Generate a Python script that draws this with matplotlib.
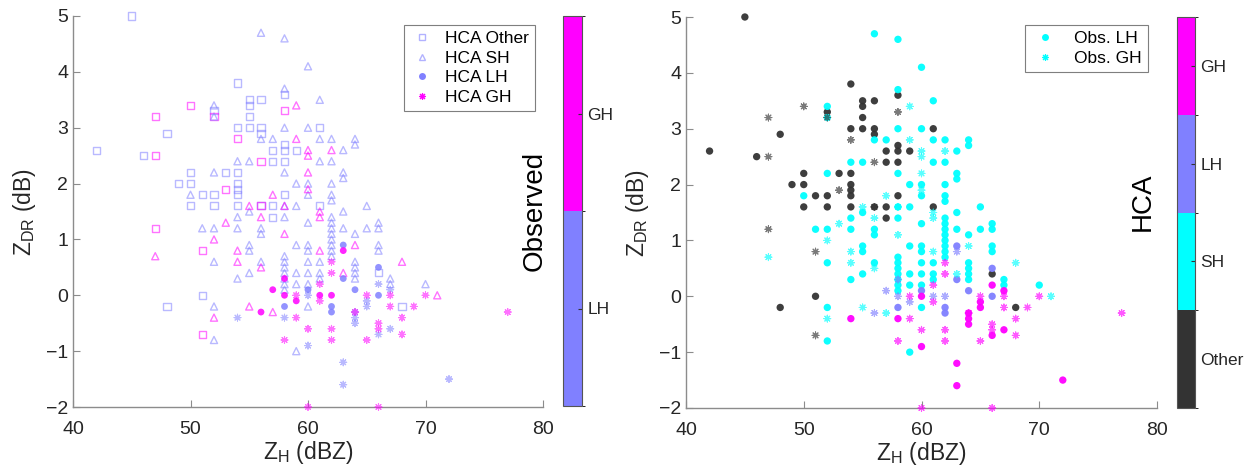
import numpy as np
import matplotlib
matplotlib.use("Agg")
import matplotlib.pyplot as plt
from matplotlib.colors import ListedColormap, BoundaryNorm
from matplotlib.cm import ScalarMappable
from matplotlib.lines import Line2D

plt.rcParams['font.family'] = ['Liberation Sans', 'DejaVu Sans']
plt.rcParams['mathtext.default'] = 'regular'

# ZH (dBZ) / ZDR (dB) points, grouped by HCA class and observed class
other_lh_zh = [45, 42, 46, 48, 49, 50, 50, 50, 51, 51, 48, 52, 52, 52, 53, 54, 54, 54, 54, 54, 54, 54,
               55, 55, 55, 55, 56, 56, 56, 56, 57, 57, 57, 57, 58, 58, 58, 58, 58, 59, 61, 61, 66, 68]
other_lh_zdr = [5.0, 2.6, 2.5, 2.9, 2.0, 2.2, 2.0, 1.6, 1.8, 0.0, -0.2, 3.3, 1.8, 1.6, 2.2, 3.8, 3.0, 2.2, 2.0, 1.9, 1.8, 1.6,
                3.5, 3.4, 3.2, 3.0, 3.5, 3.0, 2.9, 1.6, 2.6, 2.4, 1.6, 1.4, 3.6, 2.7, 2.6, 2.4, 1.8, 2.6, 3.0, 1.6, 0.4, -0.2]

other_gh_zh = [47, 47, 47, 50, 51, 51, 52, 53, 54, 56, 56, 58]
other_gh_zdr = [3.2, 2.5, 1.2, 3.4, 0.8, -0.7, 3.2, 1.9, 2.8, 2.4, 1.6, 3.3]

sh_lh_zh = [50, 51, 52, 52, 52, 52, 52, 52, 52, 54, 54, 54, 54, 55, 55, 55, 55, 55,
            56, 56, 56, 56, 56, 57,
            58, 58, 58, 58, 58, 58, 58, 58, 58, 58, 58, 58, 58,
            59, 59, 59, 59, 59, 59,
            60, 60, 60, 60, 60, 60, 60, 60, 60, 60, 60,
            61, 61, 61, 61, 61, 61,
            62, 62, 62, 62, 62, 62, 62, 62, 62, 62, 62, 62, 62,
            63, 63, 63, 63, 63, 64, 64, 64, 64, 64, 64, 64,
            65, 65, 66, 66, 66, 66, 67, 67, 70]
sh_lh_zdr = [1.8, 1.2, 3.4, 3.2, 2.2, 1.2, 0.6, -0.2, -0.8, 2.4, 1.4, 1.2, 0.3, 2.4, 1.5, 0.9, 0.8, 0.4,
             4.7, 2.8, 1.2, 1.1, 0.6, 2.8,
             4.6, 3.7, 3.0, 2.2, 1.6, 1.4, 0.7, 0.6, 0.5, 0.4, 0.3, 0.2, 0.1,
             2.0, 1.6, 0.9, 0.4, 0.2, -1.0,
             4.1, 3.0, 2.0, 1.8, 1.3, 0.9, 0.8, 0.6, 0.4, 0.2, -0.2,
             3.5, 2.8, 2.4, 0.6, 0.4, 0.3,
             2.8, 2.4, 2.0, 1.8, 1.7, 1.4, 1.3, 1.2, 1.1, 1.0, 0.9, 0.8, 0.7,
             2.6, 2.2, 2.1, 1.5, 1.2, 2.8, 2.7, 1.1, 0.6, 0.5, 0.4, 0.3,
             1.6, 1.2, 1.3, 1.2, 0.9, 0.8, 0.3, 0.2, 0.2]

sh_gh_zh = [47, 52, 52, 53, 54, 54, 55, 55, 56, 56, 57, 57, 58, 58, 59, 59,
            60, 60, 60, 60, 61, 61, 61, 62, 63, 64, 68, 71]
sh_gh_zdr = [0.7, 1.0, -0.4, 1.3, 0.8, 0.6, 1.6, -0.2, 1.4, 0.5, 1.8, -0.3, 1.1, 1.6, 3.4, 2.8,
             2.6, 2.5, 2.2, 1.9, 1.5, 1.4, 0.8, 2.6, 0.4, 0.9, 0.6, 0.0]

lh_lh_zh = [58, 60, 62, 62, 63, 63, 64, 66, 66]
lh_lh_zdr = [-0.2, 0.1, -0.2, -0.3, 0.9, 0.3, 0.1, 0.5, 0.0]

lh_gh_zh = [56, 57, 58, 58, 59, 61, 62, 63]
lh_gh_zdr = [-0.3, 0.1, 0.0, 0.3, -0.1, 0.0, 0.0, 0.8]

gh_lh_zh = [54, 58, 60, 60, 63, 63, 64, 64, 64, 65, 65, 66, 66, 67, 67, 72]
gh_lh_zdr = [-0.4, -0.4, 0.0, -0.9, -1.2, -1.6, -0.3, -0.4, -0.5, -0.1, -0.2, 0.2, -0.7, 0.1, -0.6, -1.5]

gh_gh_zh = [58, 59, 59, 60, 60, 61, 61, 62, 62, 62, 62, 64, 65, 65, 66, 66, 66, 67, 67, 68, 68, 69, 70, 77]
gh_gh_zdr = [-0.8, 0.0, -0.4, -0.6, -2.0, 0.2, -0.1, 0.6, 0.4, -0.6, -0.8, -0.3, 0.0, -0.8, -0.5, -0.6, -2.0,
             0.0, -0.2, -0.4, -0.7, -0.2, 0.0, -0.3]

hca_names = ['Other', 'SH', 'LH', 'GH']
obs_names = ['LH', 'GH']
hca_colors = ['#333333', '#00ffff', '#8080ff', '#ff00ff']
obs_colors = ['#8080ff', '#ff00ff']

groups = {
    ('Other', 'LH'): (other_lh_zh, other_lh_zdr),
    ('Other', 'GH'): (other_gh_zh, other_gh_zdr),
    ('SH', 'LH'): (sh_lh_zh, sh_lh_zdr),
    ('SH', 'GH'): (sh_gh_zh, sh_gh_zdr),
    ('LH', 'LH'): (lh_lh_zh, lh_lh_zdr),
    ('LH', 'GH'): (lh_gh_zh, lh_gh_zdr),
    ('GH', 'LH'): (gh_lh_zh, gh_lh_zdr),
    ('GH', 'GH'): (gh_gh_zh, gh_gh_zdr),
}

star = (8, 2, 0)
W, H = 1254, 472
fig = plt.figure(figsize=(W / 100, H / 100), dpi=100)

ax1 = fig.add_axes([73 / W, 1 - 407 / H, 470 / W, 391 / H])
ax2 = fig.add_axes([686 / W, 1 - 408 / H, 471 / W, 391 / H])

tick_col = '#262626'
axis_col = '#8c8c8c'


def style(ax):
    ax.set_xlim(40, 80)
    ax.set_ylim(-2, 5)
    ax.set_xticks([40, 50, 60, 70, 80])
    ax.set_yticks(range(-2, 6))
    for s in ['top', 'right']:
        ax.spines[s].set_visible(False)
    for s in ['left', 'bottom']:
        ax.spines[s].set_color(axis_col)
        ax.spines[s].set_linewidth(1.0)
    ax.tick_params(direction='in', length=5, color=axis_col, labelcolor=tick_col, labelsize=14)
    ax.tick_params(axis='x', pad=10)
    ax.set_xlabel('Z$_{H}$ (dBZ)', fontsize=16.5, color=tick_col, labelpad=1)
    ax.set_ylabel('Z$_{DR}$ (dB)', fontsize=16.5, color=tick_col, labelpad=6)


# left panel: marker = HCA class, colour = observed class
left_markers = {'Other': 's', 'SH': '^', 'LH': 'o', 'GH': star}
for hca in hca_names:
    xs, ys, cs = [], [], []
    for k, obs in enumerate(obs_names):
        zh, zdr = groups[(hca, obs)]
        xs += list(zh)
        ys += list(zdr)
        cs += [obs_colors[k]] * len(zh)
    m = left_markers[hca]
    if hca == 'LH':
        ax1.scatter(xs, ys, s=24, marker='o', c=cs, edgecolors='none', alpha=0.85, zorder=3, clip_on=False)
    elif hca == 'GH':
        ax1.scatter(xs, ys, s=24, marker=star, c=cs, linewidths=0.8, alpha=0.55, zorder=3, clip_on=False)
    else:
        ax1.scatter(xs, ys, s=26, marker=m, facecolors='none', edgecolors=cs, linewidths=1.0,
                    alpha=0.55, zorder=3, clip_on=False)
style(ax1)

leg_handles = [
    Line2D([], [], ls='none', marker='s', ms=4.5, mfc='none', mec=obs_colors[0], alpha=0.6),
    Line2D([], [], ls='none', marker='^', ms=5, mfc='none', mec=obs_colors[0], alpha=0.6),
    Line2D([], [], ls='none', marker='o', ms=5, mfc=obs_colors[0], mec='none'),
    Line2D([], [], ls='none', marker=star, ms=5, mec=obs_colors[1], mew=0.8),
]
leg1 = ax1.legend(leg_handles, ['HCA Other', 'HCA SH', 'HCA LH', 'HCA GH'],
                  loc='upper right', bbox_to_anchor=(535 / W, 1 - 25 / H), bbox_transform=fig.transFigure,
                  borderaxespad=0, fontsize=12.5, fancybox=False, edgecolor='#7f7f7f', framealpha=1,
                  handlelength=1.4, handletextpad=0.6, labelspacing=0.25, borderpad=0.35)
leg1.get_frame().set_linewidth(0.8)

# right panel: colour = HCA class, marker = observed class
for k, obs in enumerate(obs_names):
    xs, ys, cs = [], [], []
    for j, hca in enumerate(hca_names):
        zh, zdr = groups[(hca, obs)]
        xs += list(zh)
        ys += list(zdr)
        cs += [hca_colors[j]] * len(zh)
    if obs == 'LH':
        ax2.scatter(xs, ys, s=28, marker='o', c=cs, edgecolors='none', alpha=0.95, zorder=3, clip_on=False)
    else:
        ax2.scatter(xs, ys, s=24, marker=star, c=cs, linewidths=0.8, alpha=0.65, zorder=3, clip_on=False)
style(ax2)

leg_handles2 = [
    Line2D([], [], ls='none', marker='o', ms=5, mfc='#00ffff', mec='none'),
    Line2D([], [], ls='none', marker=star, ms=5, mec='#00ffff', mew=0.8),
]
leg2 = ax2.legend(leg_handles2, ['Obs. LH', 'Obs. GH'],
                  loc='upper right', bbox_to_anchor=(1148 / W, 1 - 25 / H), bbox_transform=fig.transFigure,
                  borderaxespad=0, fontsize=12.5, fancybox=False, edgecolor='#7f7f7f', framealpha=1,
                  handlelength=1.6, handletextpad=0.9, labelspacing=0.25, borderpad=0.35)
leg2.get_frame().set_linewidth(0.8)


def add_cbar(rect, colors, labels):
    cax = fig.add_axes(rect)
    n = len(colors)
    cmap = ListedColormap(colors)
    norm = BoundaryNorm(np.arange(n + 1), n)
    cb = fig.colorbar(ScalarMappable(norm=norm, cmap=cmap), cax=cax, ticks=np.arange(n) + 0.5)
    cb.set_ticklabels(labels)
    cb.outline.set_edgecolor('#555555')
    cb.outline.set_linewidth(0.8)
    cax.tick_params(direction='in', length=3, color='#333333', labelcolor=tick_col, labelsize=12.5, pad=4)
    return cb


add_cbar([563 / W, 1 - 406 / H, 19 / W, 390 / H], obs_colors, obs_names)
add_cbar([1177 / W, 1 - 408 / H, 18 / W, 391 / H], hca_colors, hca_names)

fig.text(535 / W, 1 - 211 / H, 'Observed', rotation=90, fontsize=20, ha='center', va='center', color='black')
fig.text(1143 / W, 1 - 202 / H, 'HCA', rotation=90, fontsize=20, ha='center', va='center', color='black')

fig.savefig('out.png', dpi=100, facecolor='white')
